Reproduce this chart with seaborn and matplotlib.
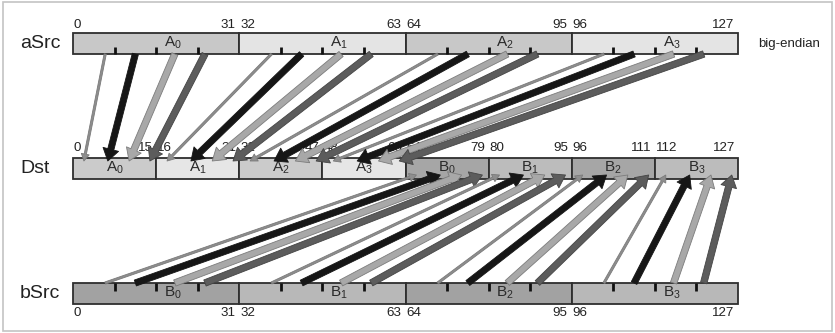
import numpy as np
import matplotlib
matplotlib.use("Agg")
import matplotlib.pyplot as plt
from matplotlib.patches import Rectangle
import seaborn as sns

# -----------------------------
# Data (bit positions)
# -----------------------------
word_starts = [0, 32, 64, 96]
word_width = 32
slot_starts = [0, 16, 32, 48, 64, 80, 96, 112]
slot_width = 16
byte_ticks = [8, 16, 24]

a_names = ["A_0", "A_1", "A_2", "A_3"]
b_names = ["B_0", "B_1", "B_2", "B_3"]
dst_names = a_names + b_names

src_first = ["0", "32", "64", "96"]
src_last = ["31", "63", "95", "127"]
dst_first = ["0", "16", "32", "48", "64", "80", "96", "112"]
dst_last = ["15", "31", "47", "63", "79", "95", "111", "127"]

a_fill = ["#c8c8c8", "#e4e4e4", "#c8c8c8", "#e4e4e4"]
b_fill = ["#a2a2a2", "#b8b8b8", "#a2a2a2", "#b8b8b8"]
dst_fill = ["#cbcbcb", "#e6e6e6", "#cbcbcb", "#e6e6e6",
            "#a6a6a6", "#bcbcbc", "#a6a6a6", "#bcbcbc"]

# where each byte arrow leaves the source word / lands in the dst slot
arrow_src_offset = [6.2, 12.0, 19.6, 25.4]
arrow_dst_offset = [2.1, 6.7, 10.8, 14.8]

# -----------------------------
# Layout (pixels in y, bits in x)
# -----------------------------
W, H = 835, 333
X0_PX = 73
PX_PER_BIT = 665 / 128
BAR_H = 21
Y_A, Y_D, Y_B = 43.5, 168.5, 293.5

# arrow looks: (tail px, head width px, head length px, face, edge)
arrow_styles = [
    (2.2, 8, 7, "#8e8e8e", "#7a7a7a"),
    (6.2, 16, 12, "#161616", "#161616"),
    (6.5, 16, 12, "#a8a8a8", "#7c7c7c"),
    (6.5, 16, 12, "#5c5c5c", "#444444"),
]

sns.set_theme(style="white")
plt.rcParams["font.family"] = ["Liberation Sans", "DejaVu Sans"]
plt.rcParams["mathtext.fontset"] = "custom"
plt.rcParams["mathtext.rm"] = "Liberation Sans"
plt.rcParams["mathtext.it"] = "Liberation Sans"

fig = plt.figure(figsize=(W / 100, H / 100), dpi=100)
ax = fig.add_axes([0, 0, 1, 1])
ax.set_xlim(-X0_PX / PX_PER_BIT, (W - X0_PX) / PX_PER_BIT)
ax.set_ylim(H, 0)
ax.axis("off")

PX = 1 / PX_PER_BIT  # one pixel in bits
edge = "#2e2e2e"
tc = "#222222"
LBL = 9.6

# outer frame
ax.add_patch(Rectangle((3 / W, 2 / H), 829 / W, 329 / H, transform=ax.transAxes,
                       fill=False, ec="#c4c4c4", lw=1.2))

# source bars
ax.barh([Y_A] * 4, [word_width] * 4, left=word_starts, height=BAR_H,
        color=a_fill, edgecolor=edge, linewidth=1.3, zorder=1)
ax.barh([Y_B] * 4, [word_width] * 4, left=word_starts, height=BAR_H,
        color=b_fill, edgecolor=edge, linewidth=1.3, zorder=1)
ax.barh([Y_D] * 8, [slot_width] * 8, left=slot_starts, height=BAR_H,
        color=dst_fill, edgecolor=edge, linewidth=1.3, zorder=1)

# byte ticks
for ws in word_starts:
    for bt in byte_ticks:
        ax.vlines(ws + bt, Y_A + BAR_H / 2 - 7.5, Y_A + BAR_H / 2, color="#111111", lw=2, zorder=2)
        ax.vlines(ws + bt, Y_B - BAR_H / 2, Y_B - BAR_H / 2 + 8, color="#111111", lw=2, zorder=2)

# labels in bars
for i, ws in enumerate(word_starts):
    ax.text(ws + 19.2, Y_A - 0.5, f"$\\mathregular{{{a_names[i]}}}$", fontsize=11,
            ha="center", va="center", color="#2a2a2a", zorder=2)
    ax.text(ws + 19.2, Y_B - 0.5, f"$\\mathregular{{{b_names[i]}}}$", fontsize=11,
            ha="center", va="center", color="#2a2a2a", zorder=2)
    ax.text(ws + 1 * PX, 24.5, src_first[i], fontsize=LBL, ha="left", va="center", color=tc)
    ax.text(ws + word_width - 4 * PX, 24.5, src_last[i], fontsize=LBL, ha="right", va="center", color=tc)
    ax.text(ws + 1 * PX, 313, src_first[i], fontsize=LBL, ha="left", va="center", color=tc)
    ax.text(ws + word_width - 4 * PX, 313, src_last[i], fontsize=LBL, ha="right", va="center", color=tc)

for i, ss in enumerate(slot_starts):
    ax.text(ss + slot_width / 2, Y_D - 0.5, f"$\\mathregular{{{dst_names[i]}}}$", fontsize=11,
            ha="center", va="center", color="#2a2a2a", zorder=2)
    ax.text(ss + 1 * PX, 148, dst_first[i], fontsize=LBL, ha="left", va="center", color=tc)
    ax.text(ss + slot_width - 3 * PX, 148, dst_last[i], fontsize=LBL, ha="right", va="center", color=tc)

# row names
for name, y in [("aSrc", Y_A), ("Dst", Y_D), ("bSrc", Y_B)]:
    ax.text(-53 * PX, y, name, fontsize=14, ha="left", va="center", color=tc)
ax.text(128 + 20 * PX, Y_A + 1, "big-endian", fontsize=9.5, ha="left", va="center", color=tc)


def draw_arrow(x0, y0, x1, y1, k):
    tail, hw, hl, fc, ec = arrow_styles[k]
    s = 0.72
    ax.annotate("", xy=(x1, y1), xytext=(x0, y0),
                arrowprops=dict(arrowstyle=f"simple,head_width={hw * s},head_length={hl * s},tail_width={tail * s}",
                                mutation_scale=1, fc=fc, ec=ec, lw=0.6,
                                shrinkA=0, shrinkB=0),
                zorder=3)


# a -> dst (upper half), b -> dst (lower half)
for i, ws in enumerate(word_starts):
    for k in range(4):
        draw_arrow(ws + arrow_src_offset[k], Y_A + BAR_H / 2,
                   slot_starts[i] + arrow_dst_offset[k], Y_D - BAR_H / 2 + 3, k)
for i, ws in enumerate(word_starts):
    for k in range(4):
        draw_arrow(ws + arrow_src_offset[k], Y_B - BAR_H / 2,
                   slot_starts[4 + i] + arrow_dst_offset[k], Y_D + BAR_H / 2 - 4, k)

fig.savefig("out.png", dpi=100)
